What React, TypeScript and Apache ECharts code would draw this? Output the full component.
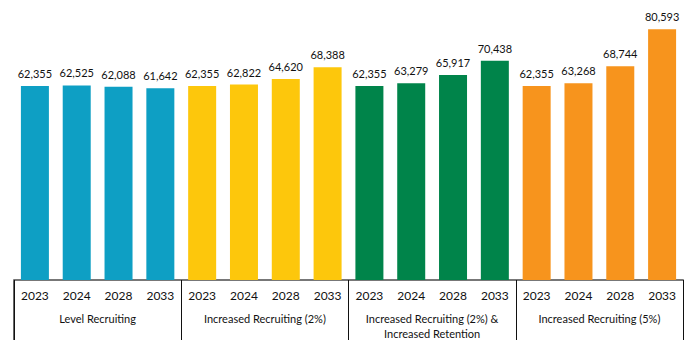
import React, { useEffect, useRef } from "react";
import * as echarts from "echarts";

const years = ["2023", "2024", "2028", "2033"];
const groups = [
  "Level Recruiting",
  "Increased Recruiting (2%)",
  "Increased Recruiting (2%) &\nIncreased Retention",
  "Increased Recruiting (5%)",
];
const levelRecruiting = [62355, 62525, 62088, 61642];
const increased2 = [62355, 62822, 64620, 68388];
const increased2Retention = [62355, 63279, 65917, 70438];
const increased5 = [62355, 63268, 68744, 80593];
const groupColors = ["#0E9FC4", "#FDC70C", "#00844A", "#F7941D"];

export default function App() {
  const ref = useRef<HTMLDivElement>(null);
  useEffect(() => {
    if (!ref.current) return;
    const chart = echarts.init(ref.current, null, { renderer: "svg" });
    const seriesValues = [levelRecruiting, increased2, increased2Retention, increased5];
    const cats: string[] = [];
    const data: any[] = [];
    seriesValues.forEach((vals, gi) => {
      vals.forEach((v, i) => {
        cats.push(years[i]);
        data.push({ value: v, itemStyle: { color: groupColors[gi] } });
      });
    });
    const font = "Lato, 'Noto Sans', sans-serif";
    chart.setOption({
      animation: false,
      textStyle: { fontFamily: font },
      grid: { left: 14, right: 17, top: 0, bottom: 77, containLabel: false },
      xAxis: [
        {
          type: "category",
          data: cats,
          position: "bottom",
          axisLine: { show: true, lineStyle: { color: "#777", width: 2 } },
          axisTick: { show: false },
          axisLabel: { interval: 0, color: "#111", fontSize: 12, margin: 9, fontFamily: font },
        },
        {
          type: "category",
          data: groups,
          position: "bottom",
          axisLine: { show: false },
          axisTick: { show: true, interval: 0, length: 60, lineStyle: { color: "#111", width: 1 } },
          axisLabel: {
            interval: 0,
            color: "#111",
            fontSize: 11,
            margin: 31,
            lineHeight: 15,
            fontFamily: font,
            verticalAlign: "top",
            align: "center",
          },
        },
      ],
      yAxis: { type: "value", min: 0, max: 90000, show: false },
      series: [
        {
          type: "bar",
          xAxisIndex: 0,
          data,
          barWidth: 28,
          label: {
            show: true,
            position: "top",
            distance: 7,
            color: "#111",
            fontSize: 11,
            fontFamily: font,
            formatter: (p: any) => Number(p.value).toLocaleString("en-US"),
          },
        },
      ],
      graphic: [
        {
          type: "line",
          shape: { x1: 14, y1: 280, x2: 14, y2: 340 },
          style: { stroke: "#666", lineWidth: 2 },
        },
      ],
    });
    return () => chart.dispose();
  }, []);
  return <div ref={ref} style={{ width: 700, height: 357, position: "absolute", left: 0, top: 0 }} />;
}
